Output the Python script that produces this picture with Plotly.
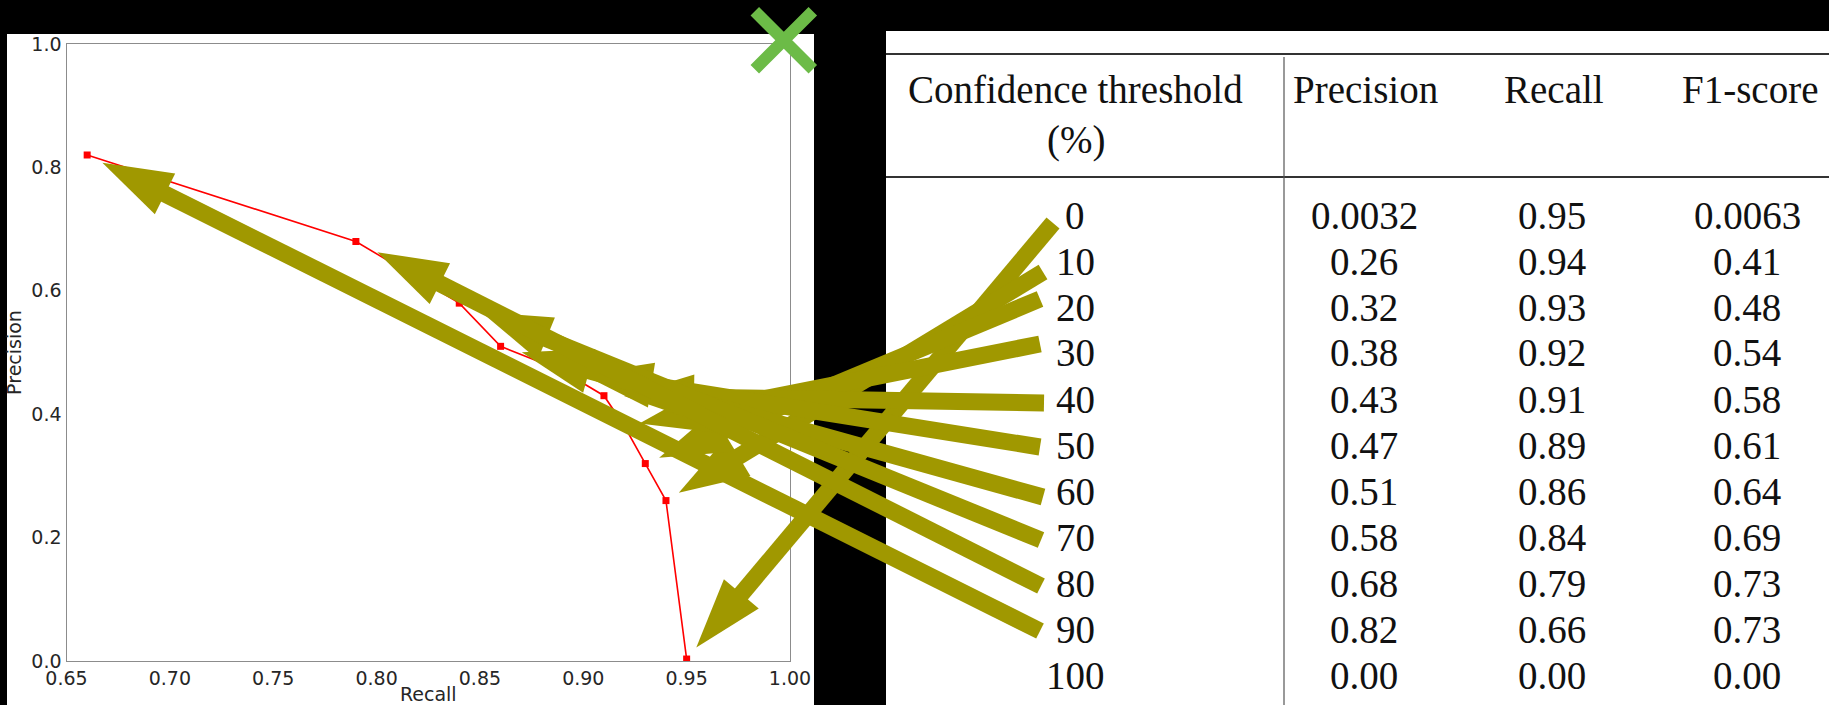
import plotly.graph_objects as go

# ---- table values -------------------------------------------------------
thresholds = ["0", "10", "20", "30", "40", "50", "60", "70", "80", "90", "100"]
precision = [0.0032, 0.26, 0.32, 0.38, 0.43, 0.47, 0.51, 0.58, 0.68, 0.82, 0.00]
recall = [0.95, 0.94, 0.93, 0.92, 0.91, 0.89, 0.86, 0.84, 0.79, 0.66, 0.00]
f1_score = [0.0063, 0.41, 0.48, 0.54, 0.58, 0.61, 0.64, 0.69, 0.73, 0.73, 0.00]

precision_text = ["0.0032", "0.26", "0.32", "0.38", "0.43", "0.47", "0.51", "0.58", "0.68", "0.82", "0.00"]
recall_text = ["0.95", "0.94", "0.93", "0.92", "0.91", "0.89", "0.86", "0.84", "0.79", "0.66", "0.00"]
f1_text = ["0.0063", "0.41", "0.48", "0.54", "0.58", "0.61", "0.64", "0.69", "0.73", "0.73", "0.00"]

x_ticks = [0.65, 0.70, 0.75, 0.80, 0.85, 0.90, 0.95, 1.00]
x_tick_text = ["0.65", "0.70", "0.75", "0.80", "0.85", "0.90", "0.95", "1.00"]
y_ticks = [0.0, 0.2, 0.4, 0.6, 0.8, 1.0]
y_tick_text = ["0.0", "0.2", "0.4", "0.6", "0.8", "1.0"]

# ideal operating point (top-right corner)
ideal_recall = [0.997]
ideal_precision = [1.006]

# ---- page geometry (px) -------------------------------------------------
W, H = 1829, 705
L, R, T, B = 66.5, 790, 44, 661          # PR plot frame
X_RANGE = (0.65, 1.0)
Y_RANGE = (0.0, 1.0)

# tails of the arrows, beside each threshold label (px)
arrow_tails = [(1053, 223), (1043, 272), (1040, 299), (1040, 344), (1044, 403),
               (1040, 447), (1043, 497), (1041, 540), (1041, 586), (1040, 631)]
arrow_standoff = [15, 15, 15, 15, 20, 20, 22, 24, 24, 17]
HEAD_SIZE = 73.6
SHAFT_W = 17

OLIVE = "#A09800"
GREEN = "#6CBB47"
TABLE_FONT = dict(family="Liberation Serif, Times New Roman, serif", size=39, color="#111111")
AXIS_FONT = dict(family="DejaVu Sans, sans-serif", size=19, color="#262626")
TITLE_FONT = dict(family="DejaVu Sans, sans-serif", size=19, color="#262626")


def px_to_x(px):
    return X_RANGE[0] + (px - L) / (R - L) * (X_RANGE[1] - X_RANGE[0])


def py_to_y(py):
    return Y_RANGE[0] + (B - py) / (B - T) * (Y_RANGE[1] - Y_RANGE[0])


fig = go.Figure()

# precision-recall curve (thresholds 0-90 %)
curve_r = [r for r, p in zip(recall, precision) if r > 0]
curve_p = [p for r, p in zip(recall, precision) if r > 0]
fig.add_trace(go.Scatter(
    x=curve_r, y=curve_p, mode="lines+markers",
    line=dict(color="#FF0000", width=1.6),
    marker=dict(symbol="square", size=7, color="#FF0000"),
    xaxis="x", yaxis="y", showlegend=False, hoverinfo="skip",
))

# arrows from each table row to its point on the curve (full-page overlay axes)
for i in range(10):
    tx, ty = arrow_tails[i]
    fig.add_trace(go.Scatter(
        x=[px_to_x(tx), recall[i]], y=[py_to_y(ty), precision[i]],
        mode="lines+markers",
        line=dict(color=OLIVE, width=SHAFT_W, backoff=arrow_standoff[i] + 40),
        marker=dict(symbol="arrow", size=[0, HEAD_SIZE], angleref="previous", opacity=1,
                    standoff=arrow_standoff[i], color=OLIVE, line=dict(width=0)),
        xaxis="x2", yaxis="y2", showlegend=False, hoverinfo="skip",
    ))

# ideal point marker (drawn on the overlay so it may sit past the frame)
fig.add_trace(go.Scatter(
    x=ideal_recall, y=ideal_precision, mode="markers",
    marker=dict(symbol="x-thin", size=58, opacity=1, line=dict(color=GREEN, width=12)),
    xaxis="x2", yaxis="y2", showlegend=False, hoverinfo="skip",
))

shapes = [
    # white panels
    dict(type="rect", xref="paper", yref="paper", x0=7 / W, x1=814 / W, y0=0, y1=1 - 34 / H,
         fillcolor="white", line=dict(width=0), layer="below"),
    dict(type="rect", xref="paper", yref="paper", x0=886 / W, x1=1, y0=0, y1=1 - 31 / H,
         fillcolor="white", line=dict(width=0), layer="below"),
    # table rules
    dict(type="line", xref="paper", yref="paper", x0=886 / W, x1=1, y0=1 - 54 / H, y1=1 - 54 / H,
         line=dict(color="#333333", width=2.2), layer="below"),
    dict(type="line", xref="paper", yref="paper", x0=886 / W, x1=1, y0=1 - 177 / H, y1=1 - 177 / H,
         line=dict(color="#333333", width=1.8), layer="below"),
    dict(type="line", xref="paper", yref="paper", x0=1284 / W, x1=1284 / W, y0=0, y1=1 - 57 / H,
         line=dict(color="#555555", width=1.2), layer="below"),
]

annotations = []


def cell(text, px, py):
    annotations.append(dict(text=text, x=px / W, y=1 - py / H, xref="paper", yref="paper",
                            xanchor="center", yanchor="middle", showarrow=False, font=TABLE_FONT))


cell("Confidence threshold", 1075, 90)
cell("(%)", 1076, 140)
cell("Precision", 1365, 90)
cell("Recall", 1554, 90)
cell("F1-score", 1750, 90)

ROW0, ROW_STEP = 215, 46.0
for i in range(len(thresholds)):
    y = ROW0 + ROW_STEP * i
    cell(thresholds[i], 1075, y)
    cell(precision_text[i], 1364, y)
    cell(recall_text[i], 1552, y)
    cell(f1_text[i], 1747, y)

fig.update_layout(
    width=W, height=H,
    margin=dict(l=0, r=0, t=0, b=0, pad=0),
    paper_bgcolor="black", plot_bgcolor="rgba(0,0,0,0)",
    shapes=shapes, annotations=annotations,
    xaxis=dict(
        domain=[L / W, R / W], range=list(X_RANGE), tickvals=x_ticks, ticktext=x_tick_text,
        showgrid=False, zeroline=False, showline=True, mirror=True,
        linecolor="#8C8C8C", linewidth=1.3, ticks="", tickfont=AXIS_FONT,
        title=dict(text="Recall", font=TITLE_FONT, standoff=1),
        automargin=False, anchor="y",
    ),
    yaxis=dict(
        domain=[1 - B / H, 1 - T / H], range=list(Y_RANGE), tickvals=y_ticks, ticktext=y_tick_text,
        showgrid=False, zeroline=False, showline=True, mirror=True,
        linecolor="#8C8C8C", linewidth=1.3, ticks="", tickfont=AXIS_FONT,
        title=dict(text="Precision", font=TITLE_FONT, standoff=4),
        automargin=False, anchor="x",
    ),
    xaxis2=dict(domain=[0, 1], range=[px_to_x(0), px_to_x(W)], visible=False, anchor="y2",
                fixedrange=True),
    yaxis2=dict(domain=[0, 1], range=[py_to_y(H), py_to_y(0)], visible=False, anchor="x2",
                fixedrange=True),
)

fig.write_html("out.html")
